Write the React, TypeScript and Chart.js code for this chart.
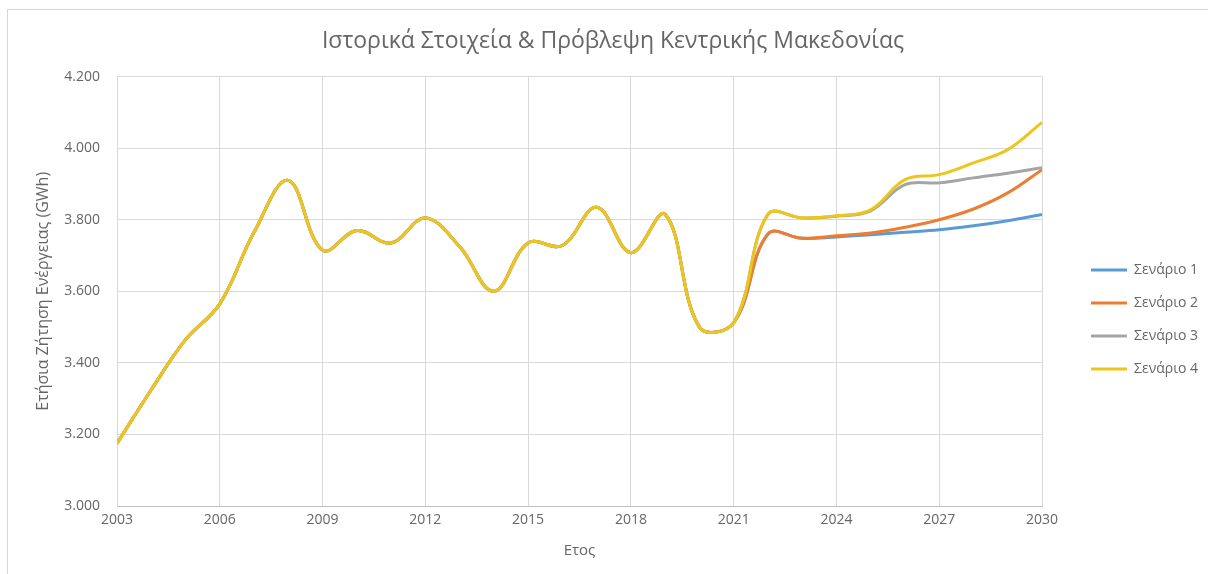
import React, { useEffect, useRef } from 'react';
import { Chart, registerables } from 'chart.js';

Chart.register(...registerables);

// ---- Data ----
const historyYears = [2003, 2004, 2005, 2006, 2007, 2008, 2009, 2010, 2011, 2012, 2013, 2014, 2015, 2016, 2017, 2018, 2019, 2020, 2021];
const historyValues = [3175, 3325, 3465, 3565, 3765, 3910, 3715, 3770, 3735, 3805, 3725, 3600, 3735, 3728, 3835, 3708, 3815, 3500, 3512];

const forecastYears = [2022, 2023, 2024, 2025, 2026, 2027, 2028, 2029, 2030];
const scenario1 = [3760, 3748, 3752, 3758, 3765, 3772, 3783, 3797, 3815];
const scenario2 = [3760, 3748, 3755, 3763, 3779, 3800, 3830, 3875, 3940];
const scenario3 = [3815, 3805, 3810, 3825, 3898, 3903, 3917, 3930, 3945];
const scenario4 = [3815, 3805, 3811, 3828, 3912, 3926, 3959, 3996, 4072];

const seriesNames = ['Σενάριο 1', 'Σενάριο 2', 'Σενάριο 3', 'Σενάριο 4'];
const seriesColors = ['#5B9BD5', '#ED7D31', '#A5A5A5', '#EDC51C'];
const forecasts = [scenario1, scenario2, scenario3, scenario4];

const chartTitle = 'Ιστορικά Στοιχεία & Πρόβλεψη Κεντρικής Μακεδονίας';
const xTitle = 'Ετος';
const yTitle = 'Ετήσια Ζήτηση Ενέργειας (GWh)';
const xMin = 2003, xMax = 2030, xStep = 3;
const yMin = 3000, yMax = 4200, yStep = 200;

const FONT = "'Open Sans', 'DejaVu Sans', sans-serif";
const TEXT = '#666666';
const W = 1208, H = 574;

function fmtThousands(v: number): string {
  return String(Math.round(v)).replace(/\B(?=(\d{3})+(?!\d))/g, '.');
}

export default function App() {
  const ref = useRef<HTMLCanvasElement | null>(null);

  useEffect(() => {
    if (!ref.current) return;
    const datasets = forecasts.map((fc, i) => {
      const pts = historyYears.map((x, k) => ({ x, y: historyValues[k] }))
        .concat(forecastYears.map((x, k) => ({ x, y: fc[k] })));
      return {
        label: seriesNames[i],
        data: pts,
        borderColor: seriesColors[i],
        backgroundColor: seriesColors[i],
        borderWidth: 3,
        pointRadius: 0,
        pointHoverRadius: 0,
        tension: 0.38,
        fill: false,
        order: 4 - i,
      };
    });

    const chart = new Chart(ref.current, {
      type: 'line',
      data: { datasets },
      options: {
        animation: false,
        responsive: false,
        maintainAspectRatio: false,
        devicePixelRatio: 1,
        layout: { padding: { left: 18, right: 0, top: 0, bottom: 0 } },
        plugins: {
          tooltip: { enabled: false },
          title: {
            display: true,
            text: chartTitle,
            color: TEXT,
            font: { family: FONT, size: 23, weight: 'normal' },
            padding: { top: 28, bottom: 21 },
          },
          legend: {
            position: 'right',
            align: 'center',
            title: { display: true, text: '', font: { size: 10 }, padding: { top: 53, bottom: 0 } },
            labels: {
              usePointStyle: true,
              pointStyle: 'line',
              pointStyleWidth: 36,
              padding: 19,
              color: TEXT,
              font: { family: FONT, size: 14 },
              sort: (a: any, b: any) => a.datasetIndex - b.datasetIndex,
            },
          },
        },
        scales: {
          x: {
            type: 'linear',
            min: xMin,
            max: xMax,
            afterFit: (s: any) => { s.height = 68; },
            ticks: {
              stepSize: xStep,
              padding: 6,
              color: TEXT,
              font: { family: FONT, size: 14 },
              callback: (v: any) => String(v),
            },
            grid: { color: '#D9D9D9', drawTicks: false },
            border: { color: '#BFBFBF' },
            title: {
              display: true,
              text: xTitle,
              color: TEXT,
              font: { family: FONT, size: 15 },
              padding: { top: 0, bottom: 14 },
            },
          },
          y: {
            type: 'linear',
            min: yMin,
            max: yMax,
            afterFit: (s: any) => { s.width = 99; },
            ticks: {
              stepSize: yStep,
              padding: 17,
              color: TEXT,
              font: { family: FONT, size: 14 },
              callback: (v: any) => fmtThousands(Number(v)),
            },
            grid: { color: '#D9D9D9', drawTicks: false },
            border: { color: '#D9D9D9' },
            title: {
              display: true,
              text: yTitle,
              color: TEXT,
              font: { family: FONT, size: 16 },
              padding: { top: 16, bottom: 0 },
            },
          },
          yRight: {
            type: 'linear',
            position: 'right',
            display: true,
            afterFit: (s: any) => {
              const lg: any = (s.chart as any).legend;
              const lw = lg ? lg.width : 0;
              s.width = Math.max(0, W - 1042 - lw);
            },
            ticks: { display: false },
            grid: { display: false, drawTicks: false },
            border: { display: false },
          },
        },
      },
    } as any);
    return () => chart.destroy();
  }, []);

  return (
    <div style={{ position: 'fixed', left: 0, top: 0, width: W, height: H, overflow: 'hidden', background: '#fff' }}>
      <div style={{ position: 'absolute', left: 7, top: 9, width: 1400, height: 800, border: '1px solid #D6D6D6', boxSizing: 'border-box' }} />
      <canvas ref={ref} width={W} height={H} style={{ position: 'absolute', left: 0, top: 0, width: W, height: H }} />
    </div>
  );
}
